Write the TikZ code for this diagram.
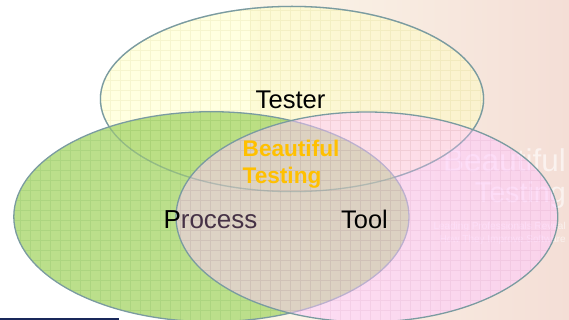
\documentclass[tikz,border=0pt]{standalone}
\usepackage{fontspec}
\setmainfont{Liberation Sans}
\definecolor{edgecol}{RGB}{122,155,160}
\definecolor{testerfill}{RGB}{255,255,195}
\definecolor{processfill}{RGB}{171,216,111}
\definecolor{toolfill}{RGB}{255,200,255}
\definecolor{bgleft}{RGB}{252,247,234}
\definecolor{bgright}{RGB}{244,222,214}
\definecolor{beautyorange}{RGB}{255,192,0}
\definecolor{navyline}{RGB}{25,40,90}
\definecolor{tinted}{RGB}{70,50,70}
\tikzset{
  venn/.style={draw=edgecol, line width=1.3pt},
  gridlines/.style={draw=#1, line width=0.5pt, opacity=0.08},
  label/.style={inner sep=0pt, anchor=base west, font=\fontsize{26}{30}\selectfont},
  beauty/.style={inner sep=0pt, anchor=base west, text=beautyorange, font=\bfseries\fontsize{22.6}{26}\selectfont},
  mark text/.style={inner sep=0pt, anchor=base east, text=white, opacity=0.6},
}
\begin{document}
\begin{tikzpicture}[x=1pt,y=-1pt]
\useasboundingbox (0,0) rectangle (569,320);
% background
\fill[white] (0,0) rectangle (569,320);
\shade[left color=bgleft, right color=bgright] (250,0) rectangle (569,320);
% watermark of the background picture
\node[mark text, font=\fontsize{31.5}{34}\selectfont] (wm1) at (566,172) {Beautiful};
\node[mark text, font=\fontsize{28.7}{32}\selectfont] (wm2) at (566,203) {Testing};
\node[mark text, font=\fontsize{10}{12}\selectfont] (wm3) at (566,229) {Leading Professionals Reveal};
\node[mark text, font=\fontsize{10}{12}\selectfont] (wm4) at (566,242) {How They Improve Software};
% Tester
\fill[testerfill, fill opacity=0.5] (292,99) ellipse [x radius=191.6pt, y radius=92.6pt];
\begin{scope}
  \clip (292,99) ellipse [x radius=191.6pt, y radius=92.6pt];
  \draw[gridlines=olive] (0,0) grid[step=10pt] (569,320);
\end{scope}
\draw[venn] (292,99) ellipse [x radius=191.6pt, y radius=92.6pt];
% Process
\fill[processfill, fill opacity=0.8] (211.4,216.7) ellipse [x radius=197.6pt, y radius=105pt];
\begin{scope}
  \clip (211.4,216.7) ellipse [x radius=197.6pt, y radius=105pt];
  \draw[gridlines=green!40!black] (0,0) grid[step=10pt] (569,320);
\end{scope}
\draw[venn] (211.4,216.7) ellipse [x radius=197.6pt, y radius=105pt];
% Tool
\fill[toolfill, fill opacity=0.5] (366.9,217) ellipse [x radius=190.9pt, y radius=105pt];
\begin{scope}
  \clip (366.9,217) ellipse [x radius=190.9pt, y radius=105pt];
  \draw[gridlines=magenta!60!black] (0,0) grid[step=10pt] (569,320);
\end{scope}
\draw[venn] (366.9,217) ellipse [x radius=190.9pt, y radius=105pt];
% faint outline of Tester seen through the others
\draw[venn, draw opacity=0.35] (292,99) ellipse [x radius=191.6pt, y radius=92.6pt];
% bottom line
\fill[navyline] (0,317.6) rectangle (119,320);
% labels
\node[label, font=\fontsize{25.6}{30}\selectfont] (tester) at (255.5,109) {Tester};
\node[beauty] (beautiful) at (242.5,156.7) {Beautiful};
\node[beauty] (testing) at (242.5,183.6) {Testing};
\node[label] (process) at (163.3,228) {P\textcolor{tinted}{rocess}};
\node[label, font=\fontsize{25.4}{30}\selectfont] (tool) at (341,228) {Tool};
\end{tikzpicture}
\end{document}
